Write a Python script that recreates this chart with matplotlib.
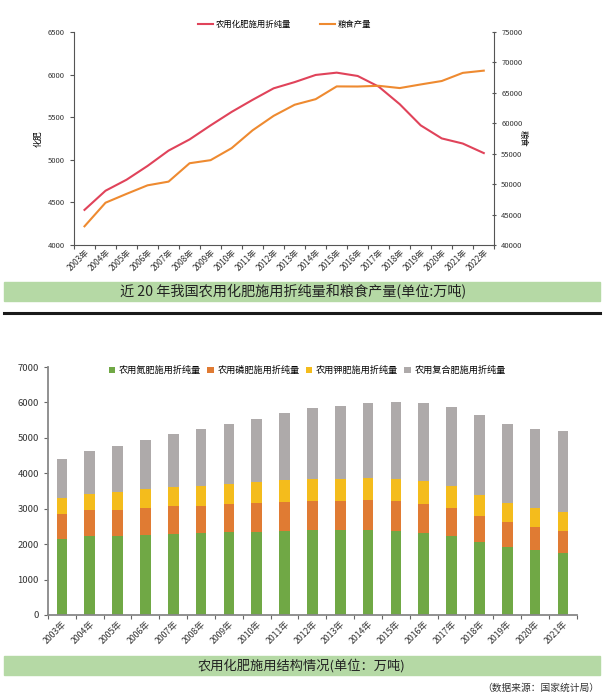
import numpy as np
import matplotlib.pyplot as plt
from matplotlib.patches import Rectangle
from matplotlib.lines import Line2D

plt.rcParams['font.family'] = ['Noto Sans CJK SC', 'DejaVu Sans']

# top chart data (万吨)
years_top = [str(y) + '年' for y in range(2003, 2023)]
fert_total = [4412, 4637, 4766, 4928, 5108, 5239, 5404, 5562, 5704, 5839,
              5912, 5996, 6023, 5984, 5859, 5653, 5404, 5251, 5191, 5079]
grain = [43070, 46947, 48402, 49804, 50414, 53434, 53941, 55911, 58849, 61223,
         63048, 63965, 66060, 66044, 66161, 65789, 66384, 66949, 68285, 68653]

# bottom chart data (万吨)
years_bot = [str(y) + '年' for y in range(2003, 2022)]
nitrogen = [2150, 2222, 2229, 2263, 2297, 2303, 2330, 2354, 2381, 2400,
            2394, 2393, 2362, 2311, 2222, 2065, 1930, 1834, 1745]
phosphate = [714, 736, 744, 770, 773, 780, 798, 806, 819, 829,
             831, 845, 843, 830, 798, 729, 682, 654, 627]
potash = [438, 467, 490, 510, 534, 545, 564, 586, 605, 618,
          627, 642, 642, 637, 620, 590, 561, 542, 524]
compound = [1110, 1204, 1303, 1386, 1503, 1609, 1699, 1799, 1895, 1990,
            2058, 2116, 2176, 2207, 2220, 2269, 2231, 2221, 2295]

fig = plt.figure(figsize=(6.03, 6.96), dpi=100)

# ---- top chart ----
ax1 = fig.add_axes([0.1227, 0.648, 0.697, 0.306])
x = np.arange(len(years_top))
ax1.plot(x, fert_total, color='#e0435a', lw=1.5)
ax1.set_xlim(-0.5, len(x) - 0.5)
ax1.set_ylim(4000, 6500)
ax1.set_yticks(np.arange(4000, 6501, 500))
ax1.set_xticks(np.arange(-0.5, len(x), 1), minor=False)
ax1.set_xticklabels([])
ax1.set_xticks(x, minor=True)
ax1.set_xticklabels(years_top, minor=True, rotation=45, ha='right',
                    rotation_mode='anchor', fontsize=6, color='#333333')
ax1.tick_params(axis='x', which='minor', length=0, pad=2)
ax1.tick_params(axis='x', which='major', length=3, color='#555555')
ax1.tick_params(axis='y', labelsize=5.5, length=3, color='#555555', labelcolor='#333333')
for s in ['top', 'right']:
    ax1.spines[s].set_visible(False)
for s in ['left', 'bottom']:
    ax1.spines[s].set_color('#555555')
ax1.set_ylabel('化肥', fontsize=6, labelpad=4)

ax2 = ax1.twinx()
ax2.plot(x, grain, color='#ee8a30', lw=1.5)
ax2.set_ylim(40000, 75000)
ax2.set_yticks(np.arange(40000, 75001, 5000))
ax2.tick_params(axis='y', labelsize=5.5, length=3, direction='inout',
                color='#555555', labelcolor='#333333')
for s in ['top', 'left', 'bottom']:
    ax2.spines[s].set_visible(False)
ax2.spines['right'].set_color('#555555')
ax2.set_ylabel('粮食', fontsize=6, rotation=270, labelpad=4)

handles = [Line2D([], [], color='#e0435a', lw=1.5),
           Line2D([], [], color='#ee8a30', lw=1.5)]
fig.legend(handles, ['农用化肥施用折纯量', '粮食产量'], loc='center',
           bbox_to_anchor=(0.472, 0.965), ncol=2, frameon=False, fontsize=6,
           handlelength=1.8, handletextpad=0.4, columnspacing=3.4)

# caption band top
fig.patches.append(Rectangle((0.007, 0.567), 0.988, 0.028, transform=fig.transFigure,
                             color='#b5d9a5', zorder=0))
fig.text(0.486, 0.581, '近 20 年我国农用化肥施用折纯量和粮食产量(单位:万吨)',
         ha='center', va='center', fontsize=10.2, color='#222222')
fig.add_artist(Line2D([0.007, 0.995], [0.551, 0.551], color='#1a1a1a', lw=2.2,
                      transform=fig.transFigure))

# ---- bottom chart ----
ax3 = fig.add_axes([0.0796, 0.1164, 0.877, 0.3563])
xb = np.arange(len(years_bot))
w = 0.38
series = [nitrogen, phosphate, potash, compound]
colors = ['#70a845', '#e07b33', '#f4bc1c', '#aeaaaa']
names = ['农用氮肥施用折纯量', '农用磷肥施用折纯量', '农用钾肥施用折纯量', '农用复合肥施用折纯量']
bottom = np.zeros(len(xb))
for vals, c, n in zip(series, colors, names):
    ax3.bar(xb, vals, w, bottom=bottom, color=c, label=n)
    bottom += np.array(vals)
ax3.set_xlim(-0.5, len(xb) - 0.5)
ax3.set_ylim(0, 7000)
ax3.set_yticks(np.arange(0, 7001, 1000))
ax3.set_xticks(np.arange(-0.5, len(xb), 1))
ax3.set_xticklabels([])
ax3.set_xticks(xb, minor=True)
ax3.set_xticklabels(years_bot, minor=True, rotation=45, ha='right',
                    rotation_mode='anchor', fontsize=6.3, color='#333333')
ax3.tick_params(axis='x', which='minor', length=0, pad=3)
ax3.tick_params(axis='x', which='major', length=3, color='#666666')
ax3.tick_params(axis='y', labelsize=6.8, length=3, color='#666666', labelcolor='#333333')
for s in ['top', 'right']:
    ax3.spines[s].set_visible(False)
for s in ['left', 'bottom']:
    ax3.spines[s].set_color('#888888')
    ax3.spines[s].set_linewidth(1.3)
ax3.legend(loc='center', bbox_to_anchor=(0.49, 0.985), ncol=4, frameon=False,
           fontsize=6.6, handlelength=0.7, handleheight=0.7, handletextpad=0.4,
           columnspacing=0.7)

# caption band bottom
fig.patches.append(Rectangle((0.007, 0.030), 0.988, 0.028, transform=fig.transFigure,
                             color='#b5d9a5', zorder=0))
fig.text(0.5, 0.044, '农用化肥施用结构情况(单位：万吨)',
         ha='center', va='center', fontsize=9.5, color='#222222')
fig.text(0.993, 0.012, '（数据来源：国家统计局）', ha='right', va='center',
         fontsize=7, color='#333333')

fig.savefig('out.png', dpi=100)
